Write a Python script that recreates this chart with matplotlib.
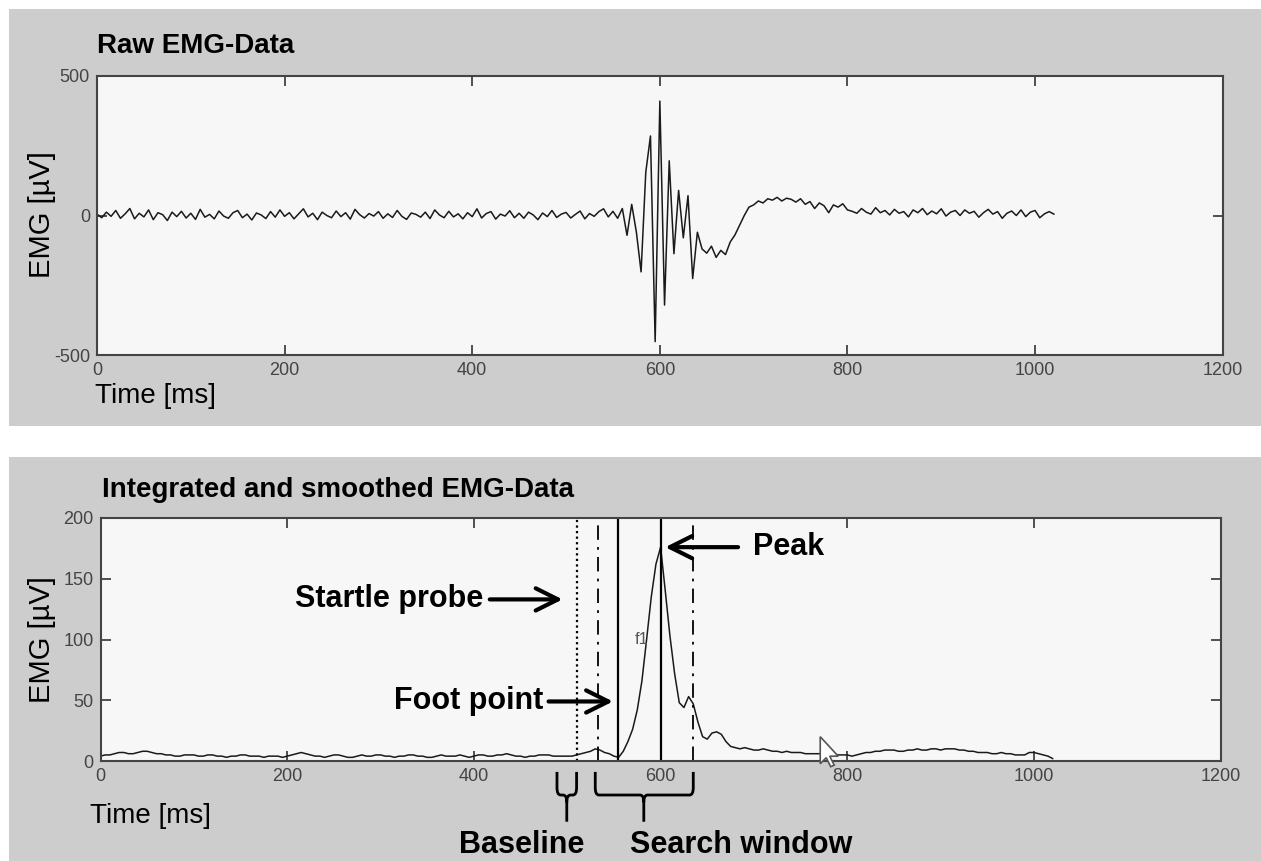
import numpy as np
import matplotlib
matplotlib.use('Agg')
import matplotlib.pyplot as plt
from matplotlib.patches import Rectangle, PathPatch
from matplotlib.path import Path
from matplotlib.transforms import ScaledTranslation

plt.rcParams['font.family'] = ['Liberation Sans', 'DejaVu Sans']
plt.rcParams['axes.unicode_minus'] = False

# sampling grid (ms) shared by both traces
time_ms = np.arange(0, 1025, 5)

# raw EMG (µV), one row per 50 ms
raw_uv = [
    5, -8, 12, -3, 18, -10, 6, 25, -12, 8,
    -5, 20, -15, 10, 3, -18, 12, -4, 15, -9,
    8, -14, 22, -6, 4, -12, 16, -2, -10, 10,
    18, -8, 5, -16, 9, 2, -11, 14, -6, 20,
    -3, 10, -12, 6, 24, -5, 8, -15, 12, 0,
    -8, 16, -4, 10, -13, 22, 3, -9, 7, -2,
    14, -10, 6, -7, 18, -3, -14, 9, 4, -6,
    12, -11, 20, 2, -8, 15, -5, 6, -12, 10,
    -4, 24, -9, 7, 14, -13, 5, -2, 17, -8,
    8, -10, 12, 2, -15, 9, -4, 18, -7, 5,
    11, -9, 4, 16, -12, 7, -3, 14, 24, -5,
    15, -10, 25, -71, 40, -60, -202, 155, 285, -452,
    410, -321, 196, -137, 90, -80, 71, -226, -60, -120,
    -135, -110, -150, -125, -140, -95, -70, -35, 0, 30,
    38, 52, 45, 60, 55, 65, 52, 62, 58, 48,
    60, 40, 50, 25, 45, 35, 10, 38, 30, 42,
    20, 15, 8, 25, 12, 5, 28, 10, 18, 2,
    22, 8, 14, -5, 20, 10, 25, 3, 16, 6,
    24, -2, 12, 18, 0, 20, 8, 15, -6, 10,
    22, 5, 14, -10, 8, 16, 0, 20, -4, 12,
    18, -8, 6, 14, 5,
]

# integrated and smoothed EMG (µV)
smooth_uv = [
    4, 5, 5, 6, 7, 7, 6, 6, 7, 8,
    8, 7, 6, 6, 5, 5, 4, 4, 5, 5,
    5, 4, 4, 5, 5, 4, 4, 3, 4, 4,
    5, 5, 4, 4, 4, 3, 4, 4, 4, 3,
    4, 5, 6, 7, 6, 5, 4, 4, 3, 4,
    5, 5, 4, 3, 3, 4, 5, 4, 4, 5,
    5, 4, 4, 3, 4, 4, 5, 5, 4, 4,
    3, 3, 4, 5, 4, 4, 4, 5, 4, 3,
    4, 5, 5, 4, 4, 5, 5, 6, 5, 4,
    4, 3, 4, 4, 5, 5, 5, 4, 4, 4,
    4, 4, 5, 6, 7, 8, 10, 9, 7, 6,
    4, 3, 8, 16, 26, 42, 66, 100, 135, 162,
    176, 140, 103, 72, 48, 44, 53, 47, 32, 20,
    18, 23, 24, 22, 16, 12, 11, 10, 11, 10,
    9, 9, 10, 9, 8, 8, 7, 8, 7, 7,
    7, 6, 6, 6, 6, 6, 5, 6, 5, 5,
    5, 4, 5, 6, 7, 7, 8, 8, 9, 9,
    9, 8, 8, 9, 9, 10, 9, 9, 10, 10,
    9, 10, 10, 10, 9, 9, 8, 8, 7, 7,
    7, 6, 6, 7, 6, 6, 5, 5, 5, 7,
    7, 6, 5, 4, 2,
]

# event markers (ms)
probe_ms = 510
window_ms = [533, 635]
foot_ms = 554
peak_ms = 600
baseline_span = [489, 510]
search_span = [530, 635]

W, H = 1261, 861
fig = plt.figure(figsize=(W / 100, H / 100), dpi=100, facecolor='white')

panel = '#cdcdcd'
fig.patches.append(Rectangle((9 / W, 1 - 426 / H), 1, 417 / H, transform=fig.transFigure,
                             facecolor=panel, edgecolor='none', zorder=-5))
fig.patches.append(Rectangle((9 / W, 0), 1, 404 / H, transform=fig.transFigure,
                             facecolor=panel, edgecolor='none', zorder=-5))

ax1 = fig.add_axes([97 / W, 1 - 355 / H, 1125.7 / W, 279 / H])
ax2 = fig.add_axes([100.5 / W, 1 - 761 / H, 1120.2 / W, 243 / H])


def style(ax, yticks):
    ax.set_facecolor('#f7f7f7')
    ax.set_xlim(0, 1200)
    ax.set_xticks(range(0, 1201, 200))
    ax.set_yticks(yticks)
    ax.set_ylim(yticks[0], yticks[-1])
    ax.tick_params(direction='in', length=7, width=1.2, color='#333333',
                   top=True, right=True, labelsize=13, labelcolor='#444444', pad=5)
    for s in ax.spines.values():
        s.set_color('#444444')
        s.set_linewidth(1.5)


style(ax1, [-500, 0, 500])
style(ax2, [0, 50, 100, 150, 200])

ax1.plot(time_ms, raw_uv, color='#1a1a1a', lw=1.1)
ax2.plot(time_ms, smooth_uv, color='#1a1a1a', lw=1.1)

# markers in the lower panel
ax2.axvline(probe_ms, color='black', lw=1.6, ls=(0, (1, 1.5)))
for w in window_ms:
    ax2.axvline(w, color='black', lw=1.3, ls=(0, (8, 4, 1.5, 4)))
ax2.axvline(foot_ms, color='black', lw=1.6)
ax2.axvline(peak_ms, color='black', lw=1.6)

bold = dict(fontsize=22, fontweight='bold', color='black')
arrow = dict(arrowstyle='->, head_length=0.8, head_width=0.4', lw=3, color='black',
             mutation_scale=20, shrinkA=0, shrinkB=0)

ax2.text(410, 133, 'Startle probe', ha='right', va='center', **bold)
ax2.annotate('', xy=(495, 133), xytext=(417, 133), arrowprops=arrow)
ax2.text(474, 49, 'Foot point', ha='right', va='center', **bold)
ax2.annotate('', xy=(549, 49), xytext=(480, 49), arrowprops=arrow)
ax2.text(699, 176, 'Peak', ha='left', va='center', **bold)
ax2.annotate('', xy=(605, 176), xytext=(683, 176), arrowprops=arrow)
ax2.text(580, 100, 'f1', ha='center', va='center', fontsize=12, color='#555555')

# mouse pointer left in the screenshot
pointer = Path([(0, 0), (0, -0.27), (0.06, -0.21), (0.105, -0.30), (0.14, -0.285),
                (0.095, -0.195), (0.18, -0.195), (0, 0)], closed=True)
ax2.add_patch(PathPatch(pointer, facecolor='white', edgecolor='#555555', lw=1.2,
                        transform=fig.dpi_scale_trans + ScaledTranslation(771, 20, ax2.transData),
                        clip_on=False, zorder=5))


def brace(ax, x0, x1, xm, ytop=-9, ymid=-28, ybot=-50, rx=4, ry=6):
    verts = [(x0, ytop), (x0, ymid + ry), (x0, ymid), (x0 + rx, ymid),
             (xm - rx, ymid), (xm, ymid), (xm, ymid - ry), (xm, ybot),
             (xm, ymid - ry), (xm, ymid), (xm + rx, ymid),
             (x1 - rx, ymid), (x1, ymid), (x1, ymid + ry), (x1, ytop)]
    codes = [Path.MOVETO, Path.LINETO, Path.CURVE3, Path.CURVE3,
             Path.LINETO, Path.CURVE3, Path.CURVE3, Path.LINETO,
             Path.MOVETO, Path.CURVE3, Path.CURVE3,
             Path.LINETO, Path.CURVE3, Path.CURVE3, Path.LINETO]
    ax.add_patch(PathPatch(Path(verts, codes), fill=False, lw=2, edgecolor='black',
                           clip_on=False))


brace(ax2, baseline_span[0], baseline_span[1], sum(baseline_span) / 2)
brace(ax2, search_span[0], search_span[1], 582)
ax2.text(451, -69, 'Baseline', ha='center', va='center', **bold)
ax2.text(686, -69, 'Search window', ha='center', va='center', **bold)

# titles and axis labels
fig.text(97 / W, 1 - 53 / H, 'Raw EMG-Data', fontsize=20, fontweight='bold', va='baseline')
fig.text(102 / W, 1 - 497 / H, 'Integrated and smoothed EMG-Data', fontsize=20,
         fontweight='bold', va='baseline')
fig.text(95 / W, 1 - 403 / H, 'Time [ms]', fontsize=20, va='baseline')
fig.text(90 / W, 1 - 823 / H, 'Time [ms]', fontsize=20, va='baseline')
fig.text(42 / W, 1 - 215 / H, 'EMG [µV]', fontsize=21, rotation=90, ha='center', va='center')
fig.text(42 / W, 1 - 640 / H, 'EMG [µV]', fontsize=21, rotation=90, ha='center', va='center')

fig.savefig('out.png', dpi=100, facecolor='white')
